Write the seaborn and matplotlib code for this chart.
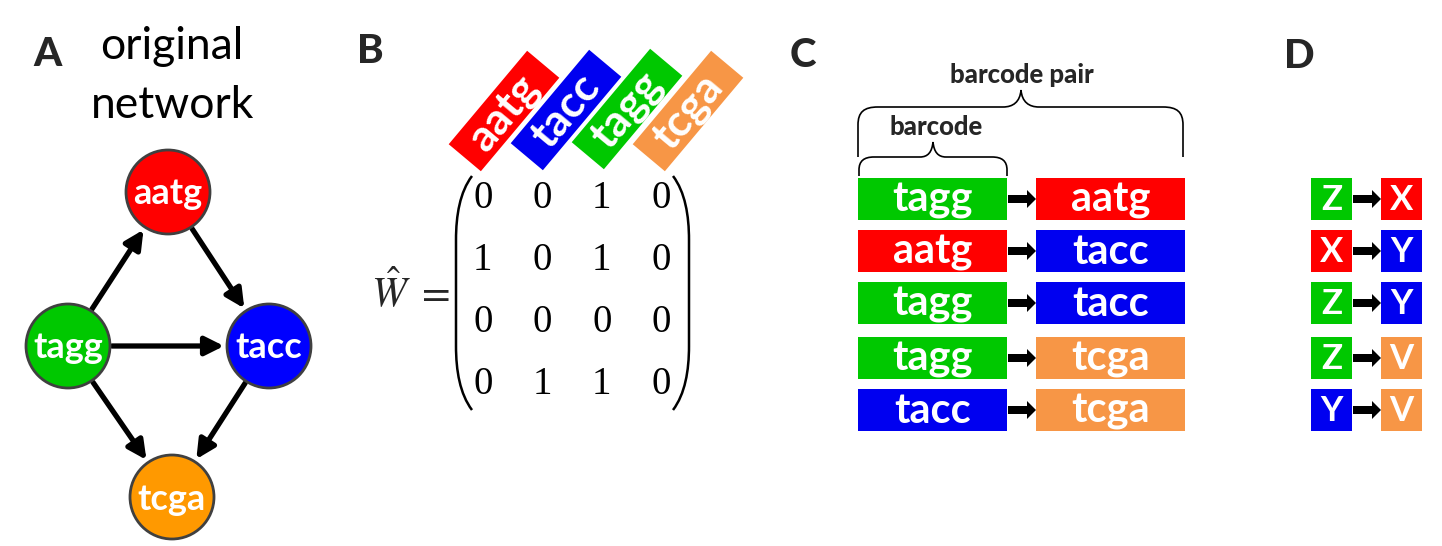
import numpy as np
import pandas as pd
import matplotlib
matplotlib.use('Agg')
import matplotlib.pyplot as plt
import seaborn as sns
from matplotlib.colors import ListedColormap
from matplotlib.patches import Circle, Polygon, Rectangle, FancyArrow, PathPatch
from matplotlib.path import Path

# ─── Data ─────────────────────────────────────────────────────────────────────
node_names = ['aatg', 'tagg', 'tacc', 'tcga']
edge_src = ['tagg', 'aatg', 'tagg', 'tagg', 'tacc']
edge_dst = ['aatg', 'tacc', 'tacc', 'tcga', 'tcga']
matrix_labels = ['aatg', 'tacc', 'tagg', 'tcga']
w_hat = [[0, 0, 1, 0],
         [1, 0, 1, 0],
         [0, 0, 0, 0],
         [0, 1, 1, 0]]
pair_first = ['tagg', 'aatg', 'tagg', 'tagg', 'tacc']
pair_second = ['aatg', 'tacc', 'tacc', 'tcga', 'tcga']
symbol_keys = ['tagg', 'aatg', 'tacc', 'tcga']
symbol_letters = ['Z', 'X', 'Y', 'V']

# ─── Styles / layout (pixel coordinates, y down) ─────────────────────────────
node_color = {'aatg': '#FF0000', 'tagg': '#00C800', 'tacc': '#0000FF', 'tcga': '#FF9900'}
box_color = {'aatg': '#FF0000', 'tagg': '#00C800', 'tacc': '#0000F0', 'tcga': '#F79646'}
node_pos = {'aatg': (168, 192), 'tagg': (68, 346), 'tacc': (269, 346), 'tcga': (172, 497)}
node_r = 42
label_xy = [(504, 111), (566, 110), (627, 109), (688, 111)]
row_y = [199, 251, 303, 358, 410]
symbol = dict(zip(symbol_keys, symbol_letters))

W, H = 1442, 546
sns.set_theme(style='white')
plt.rcParams['font.family'] = ['Lato', 'DejaVu Sans']
plt.rcParams['mathtext.fontset'] = 'stix'

fig = plt.figure(figsize=(W / 100, H / 100), dpi=100)
ax = fig.add_axes([0, 0, 1, 1])
ax.set_xlim(0, W)
ax.set_ylim(H, 0)
ax.axis('off')


def panel_letter(x, y, s):
    ax.text(x, y, s, fontsize=29, fontweight='black', ha='center', va='baseline')


# ─── A: original network ─────────────────────────────────────────────────────
panel_letter(47, 66, 'A')
ax.text(172, 59, 'original', fontsize=32, ha='center', va='baseline', color='black')
ax.text(173, 118, 'network', fontsize=32, ha='center', va='baseline', color='black')

for s, d in zip(edge_src, edge_dst):
    p0, p1 = np.array(node_pos[s], float), np.array(node_pos[d], float)
    u = (p1 - p0) / np.linalg.norm(p1 - p0)
    a, b = p0 + u * (node_r + 2), p1 - u * (node_r + 3)
    ax.annotate('', xy=b, xytext=a,
                arrowprops=dict(arrowstyle='-|>', lw=3.8, color='black',
                                mutation_scale=28, shrinkA=0, shrinkB=0))

for n in node_names:
    x, y = node_pos[n]
    ax.add_patch(Circle((x, y), node_r, facecolor=node_color[n],
                        edgecolor='#404040', lw=2, zorder=3))
    ax.text(x, y + 2, n, color='white', fontsize=26, fontweight='bold',
            ha='center', va='center', zorder=4)

# ─── B: adjacency matrix ─────────────────────────────────────────────────────
panel_letter(370, 63, 'B')

ang = np.deg2rad(50)
u = np.array([np.cos(ang), -np.sin(ang)])
v = np.array([np.sin(ang), np.cos(ang)])
for (cx, cy), lab in zip(label_xy, matrix_labels):
    c = np.array([cx, cy], float)
    corners = [c - 61 * u - 21 * v, c + 61 * u - 21 * v,
               c + 61 * u + 21 * v, c - 61 * u + 21 * v]
    ax.add_patch(Polygon(corners, closed=True, facecolor=box_color[lab], lw=0))
    ax.text(cx, cy + 1, lab, color='white', fontsize=32, fontweight='bold',
            rotation=50, rotation_mode='anchor', ha='center', va='center')

ax_m = fig.add_axes([453 / W, 1 - 416 / H, 238 / W, 248 / H])
df = pd.DataFrame(w_hat, index=matrix_labels, columns=matrix_labels)
sns.heatmap(df, annot=True, fmt='d', cmap=ListedColormap([(1, 1, 1, 0)]),
            cbar=False, xticklabels=False, yticklabels=False, ax=ax_m,
            annot_kws={'family': 'Liberation Serif', 'size': 28, 'color': 'black'})
ax_m.patch.set_alpha(0)
ax_m.axis('off')

left_paren = [(472, 176), (460, 192), (456, 215), (456, 240), (456, 346),
              (456, 371), (460, 394), (472, 410)]
codes = [Path.MOVETO, Path.CURVE4, Path.CURVE4, Path.CURVE4, Path.LINETO,
         Path.CURVE4, Path.CURVE4, Path.CURVE4]
ax.add_patch(PathPatch(Path(left_paren, codes), fill=False, lw=1.8, color='black'))
right_paren = [(1145 - x, y) for x, y in left_paren]
ax.add_patch(PathPatch(Path(right_paren, codes), fill=False, lw=1.8, color='black'))

ax.text(391, 292, r'$\hat{W}$', fontsize=30, ha='center', va='center')
ax.text(432, 292, r'$=$', fontsize=30, ha='center', va='center')

# ─── C: barcode pairs ────────────────────────────────────────────────────────
panel_letter(803, 67, 'C')
ax.text(1022, 83, 'barcode pair', fontsize=18.5, fontweight='black', ha='center', va='baseline')
ax.text(936, 135, 'barcode', fontsize=18.5, fontweight='black', ha='center', va='baseline')

brace_codes = [Path.MOVETO, Path.LINETO, Path.CURVE4, Path.CURVE4, Path.CURVE4,
               Path.LINETO, Path.CURVE4, Path.CURVE4, Path.CURVE4,
               Path.CURVE4, Path.CURVE4, Path.CURVE4, Path.LINETO,
               Path.CURVE4, Path.CURVE4, Path.CURVE4, Path.LINETO]
big = [(858, 157), (858, 125), (858, 112), (864, 107), (878, 107),
       (1003, 107), (1013, 107), (1020, 102), (1021, 90),
       (1022, 102), (1029, 107), (1039, 107), (1163, 107),
       (1177, 107), (1183, 112), (1183, 125), (1183, 157)]
small = [(859, 176), (859, 170), (859, 161), (864, 157), (874, 157),
         (920, 157), (928, 157), (932, 152), (933, 142),
         (934, 152), (938, 157), (946, 157), (992, 157),
         (1002, 157), (1007, 161), (1007, 170), (1007, 176)]
for pts in (big, small):
    ax.add_patch(PathPatch(Path(pts, brace_codes), fill=False, lw=1.2, color='black'))


def block(x0, x1, y, lab, txt, fs):
    ax.add_patch(Rectangle((x0, y - 21), x1 - x0, 42, facecolor=box_color[lab], lw=0))
    ax.text((x0 + x1) / 2, y + 1, txt, color='white', fontsize=fs,
            fontweight='bold', ha='center', va='center')


def block_arrow(x0, x1, y):
    ax.add_patch(FancyArrow(x0, y, x1 - x0, 0, width=8, head_width=18,
                            head_length=9, length_includes_head=True,
                            color='black', lw=0))


for y, a, b in zip(row_y, pair_first, pair_second):
    block(858, 1007, y, a, a, 30)
    block(1036, 1185, y, b, b, 30)
    block_arrow(1008, 1036, y)

# ─── D: symbolic pairs ───────────────────────────────────────────────────────
panel_letter(1299, 68, 'D')
for y, a, b in zip(row_y, pair_first, pair_second):
    block(1311, 1352, y, a, symbol[a], 25)
    block(1381, 1422, y, b, symbol[b], 25)
    block_arrow(1353, 1381, y)

fig.savefig('out.png', dpi=100)
